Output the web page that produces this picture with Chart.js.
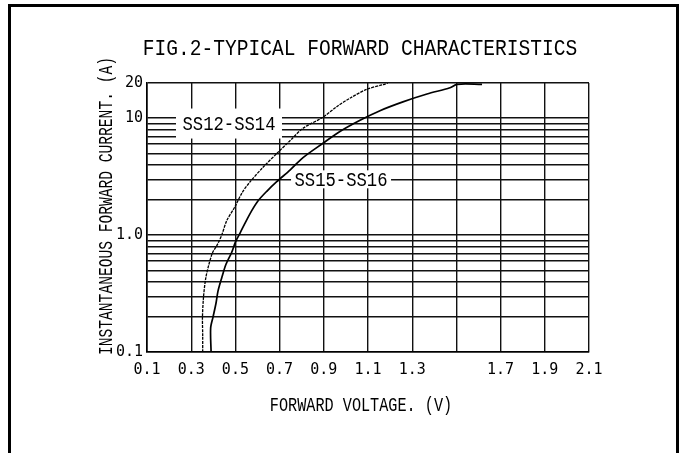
<!DOCTYPE html>
<html><head><meta charset="utf-8">
<script src="https://cdn.jsdelivr.net/npm/chart.js@4/dist/chart.umd.min.js"></script>
<style>
html,body{margin:0;padding:0;background:#fff;width:684px;height:453px;overflow:hidden;}
#frame{position:absolute;left:8px;top:4px;width:665px;height:500px;border:3px solid #000;}
#wrap{position:absolute;left:0;top:0;width:684px;height:453px;}
</style></head><body>
<div id="frame"></div>
<div id="wrap"><canvas id="c" width="684" height="453"></canvas></div>
<script>
// ---- data ----
const chartTitle = 'FIG.2-TYPICAL FORWARD CHARACTERISTICS';
const xAxisTitle = 'FORWARD VOLTAGE. (V)';
const yAxisTitle = 'INSTANTANEOUS FORWARD CURRENT. (A)';
const seriesNames = ['SS12-SS14', 'SS15-SS16'];

const xTicks = [0.1, 0.3, 0.5, 0.7, 0.9, 1.1, 1.3, 1.5, 1.7, 1.9, 2.1];
const xTickLabels = ['0.1', '0.3', '0.5', '0.7', '0.9', '1.1', '1.3', '', '1.7', '1.9', '2.1'];
const yTicks = [0.1, 0.2, 0.3, 0.4, 0.5, 0.6, 0.7, 0.8, 0.9, 1, 2, 3, 4, 5, 6, 7, 8, 9, 10, 20];
const yTickLabels = ['0.1', '', '', '', '', '', '', '', '', '1.0', '', '', '', '', '', '', '', '', '10', '20'];

// SS12-SS14 forward voltage (V) and current (A)
const ss12Voltage = [0.352, 0.352, 0.351, 0.356, 0.366, 0.380, 0.397, 0.417, 0.438, 0.461, 0.498, 0.530, 0.566, 0.625, 0.697, 0.750, 0.806, 0.896, 0.960, 1.020, 1.095, 1.170, 1.190];
const ss12Current = [0.1, 0.14, 0.2, 0.3, 0.43, 0.56, 0.71, 0.82, 1.0, 1.33, 1.75, 2.3, 2.85, 3.8, 5.2, 6.5, 8.2, 10.2, 12.6, 14.9, 17.7, 19.4, 20];
// SS15-SS16
const ss15Voltage = [0.390, 0.388, 0.399, 0.412, 0.421, 0.438, 0.457, 0.483, 0.500, 0.521, 0.543, 0.574, 0.602, 0.642, 0.687, 0.747, 0.806, 0.896, 0.973, 1.064, 1.154, 1.258, 1.367, 1.471, 1.503, 1.616];
const ss15Current = [0.1, 0.16, 0.2, 0.26, 0.33, 0.43, 0.56, 0.71, 0.87, 1.04, 1.26, 1.62, 1.96, 2.37, 2.86, 3.6, 4.6, 6.1, 7.7, 9.6, 11.6, 13.8, 16.1, 18.2, 19.5, 19.5];

// curve label anchors (data coordinates)
const labelVoltage = [0.471, 0.978];
const labelCurrent = [9.0, 3.0];

// ---- helpers ----
const pts = (xs, ys) => xs.map((x, i) => ({x: x, y: ys[i]}));
const FONT = '"Liberation Mono", "DejaVu Sans Mono", monospace';

function drawScaled(ctx, text, x, y, size, sx, rot) {
  ctx.save();
  ctx.translate(x, y);
  if (rot) ctx.rotate(rot);
  ctx.scale(sx, 1);
  ctx.font = size + 'px ' + FONT;
  ctx.textAlign = 'center';
  ctx.textBaseline = 'middle';
  ctx.fillStyle = '#000';
  ctx.fillText(text, 0, 0);
  ctx.restore();
}

const textPlugin = {
  id: 'texts',
  beforeDatasetsDraw(chart) {
    const ctx = chart.ctx, xs = chart.scales.x, ys = chart.scales.y;
    const boxes = [{hw: 53, hh: 15}, {hw: 50, hh: 9}];
    seriesNames.forEach((name, i) => {
      const px = xs.getPixelForValue(labelVoltage[i]);
      const py = ys.getPixelForValue(labelCurrent[i]);
      ctx.save();
      ctx.fillStyle = '#fff';
      ctx.fillRect(px - boxes[i].hw, py - boxes[i].hh, boxes[i].hw * 2, boxes[i].hh * 2);
      ctx.restore();
      drawScaled(ctx, name, px, py + 1, 21, 0.82, 0);
    });
  },
  afterDraw(chart) {
    const ctx = chart.ctx;
    drawScaled(ctx, chartTitle, 360, 49, 22, 0.89, 0);
    drawScaled(ctx, xAxisTitle, 361, 406, 20, 0.76, 0);
    drawScaled(ctx, yAxisTitle, 107, 206, 20, 0.73, -Math.PI / 2);
  }
};

const gridStyle = {color: '#111', lineWidth: 1.4, drawTicks: false};

new Chart(document.getElementById('c'), {
  type: 'line',
  data: {
    datasets: [
      {label: seriesNames[0], data: pts(ss12Voltage, ss12Current), borderColor: '#000', borderWidth: 1.3, borderDash: [3, 1], pointRadius: 0, tension: 0.3, fill: false},
      {label: seriesNames[1], data: pts(ss15Voltage, ss15Current), borderColor: '#000', borderWidth: 1.7, pointRadius: 0, tension: 0.3, fill: false}
    ]
  },
  options: {
    responsive: false,
    animation: false,
    devicePixelRatio: 1,
    layout: {padding: {left: 0, top: 83, right: 95, bottom: 0}},
    plugins: {legend: {display: false}, tooltip: {enabled: false}, title: {display: false}},
    scales: {
      x: {
        type: 'linear', min: 0.1, max: 2.1,
        afterBuildTicks: a => { a.ticks = xTicks.map(v => ({value: v})); },
        afterFit: a => { a.height = 101; },
        ticks: {callback: (v, i) => xTickLabels[i], color: '#000', padding: 9, maxRotation: 0, autoSkip: false,
          font: {family: '"DejaVu Sans Mono", monospace', size: 15}},
        grid: gridStyle,
        border: {display: true, color: '#000', width: 1.6}
      },
      y: {
        type: 'logarithmic', min: 0.1, max: 20,
        afterBuildTicks: a => { a.ticks = yTicks.map(v => ({value: v})); },
        afterFit: a => { a.width = 147; },
        ticks: {callback: (v, i) => yTickLabels[i], color: '#000', padding: 4, autoSkip: false,
          font: {family: '"DejaVu Sans Mono", monospace', size: 15}},
        grid: gridStyle,
        border: {display: true, color: '#000', width: 1.6}
      }
    }
  },
  plugins: [textPlugin]
});
</script>
</body></html>
